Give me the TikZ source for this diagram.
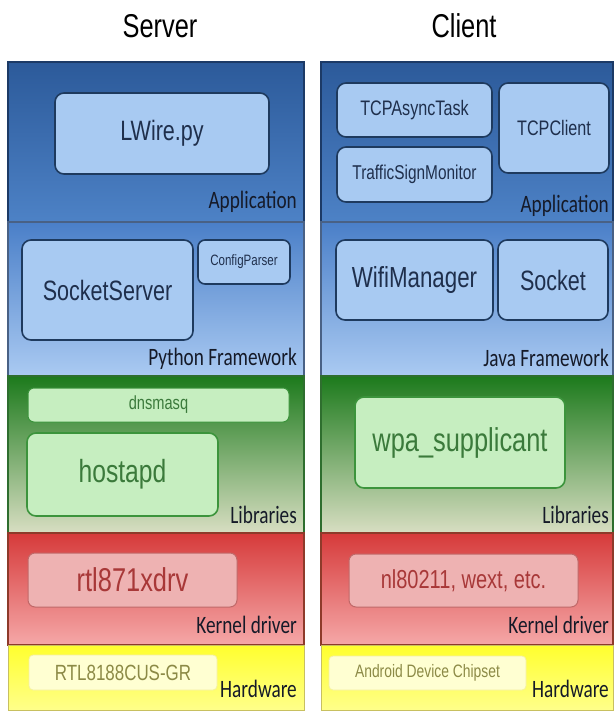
\documentclass[tikz,border=0pt]{standalone}
\usepackage{fontspec}
\newfontfamily\boxfont{Liberation Sans}[FakeStretch=0.77]
\newfontfamily\labfont{Carlito}[FakeStretch=0.77]
\newcommand\fsz[1]{\fontsize{#1}{#1}\selectfont}
\definecolor{appTop}{HTML}{2C5A9A}
\definecolor{appBot}{HTML}{4D82C6}
\definecolor{pyTop}{HTML}{4A7FC8}
\definecolor{pyBot}{HTML}{AACAF2}
\definecolor{libTop}{HTML}{1C7A1C}
\definecolor{libBot}{HTML}{D8DEC2}
\definecolor{kTop}{HTML}{D63A3A}
\definecolor{kBot}{HTML}{F5A8A8}
\definecolor{hwTop}{HTML}{FFFF2E}
\definecolor{hwBot}{HTML}{FFFF8A}
\definecolor{blueLine}{HTML}{1C3A66}
\definecolor{greenLine}{HTML}{2E6E2E}
\definecolor{redLine}{HTML}{8E3A2A}
\definecolor{hwLine}{HTML}{C8C060}
\definecolor{bFill}{HTML}{A8CAF2}
\definecolor{bDraw}{HTML}{1E3A5E}
\definecolor{bText}{HTML}{1F2F4C}
\definecolor{gFill}{HTML}{C6EEC0}
\definecolor{gDraw}{HTML}{3C943C}
\definecolor{gText}{HTML}{3B7A3B}
\definecolor{rFill}{HTML}{EEB2B2}
\definecolor{rDraw}{HTML}{C06868}
\definecolor{rText}{HTML}{A83838}
\definecolor{yFill}{HTML}{FFFFD2}
\definecolor{yDraw}{HTML}{F4F0A0}
\definecolor{yText}{HTML}{8C8A46}
\definecolor{labText}{HTML}{151A28}
\tikzset{
  bluebox/.style={draw=bDraw, fill=bFill, line width=1.6pt, rounded corners=9pt, text=bText, inner sep=0pt, outer sep=0pt},
  greenbox/.style={draw=gDraw, fill=gFill, line width=1.6pt, rounded corners=9pt, text=gText, inner sep=0pt, outer sep=0pt},
  redbox/.style={draw=rDraw, fill=rFill, line width=1pt, rounded corners=7pt, text=rText, inner sep=0pt, outer sep=0pt},
  yelbox/.style={draw=yDraw, fill=yFill, line width=0.8pt, rounded corners=4pt, text=yText, inner sep=0pt, outer sep=0pt},
  layerlab/.style={anchor=base east, text=labText, inner sep=0pt, font=\labfont\fsz{25}},
  header/.style={anchor=base, text=black, inner sep=0pt, font=\boxfont\fsz{33}},
  bandline/.style={line width=1.6pt}
}
\begin{document}
\begin{tikzpicture}[x=1pt, y=-1pt]
\useasboundingbox (0,0) rectangle (614,712);
\fill[white] (0,0) rectangle (614,712);
% bands for both columns
\foreach \xa/\xb in {8/304, 321/613} {
  \shade[top color=appTop, bottom color=appBot] (\xa,62) rectangle (\xb,222);
  \shade[top color=pyTop, bottom color=pyBot] (\xa,222) rectangle (\xb,376);
  \shade[top color=libTop, bottom color=libBot] (\xa,376) rectangle (\xb,533);
  \shade[top color=kTop, bottom color=kBot] (\xa,533) rectangle (\xb,645);
  \shade[top color=hwTop, bottom color=hwBot] (\xa,645) rectangle (\xb,710);
  \draw[bandline, draw=blueLine] (\xa,62) rectangle (\xb,222);
  \draw[bandline, draw=blueLine!80!white] (\xa,222) rectangle (\xb,376);
  \draw[bandline, draw=greenLine] (\xa,376) rectangle (\xb,533);
  \draw[bandline, draw=redLine] (\xa,533) rectangle (\xb,645);
  \draw[line width=1pt, draw=hwLine] (\xa,645) rectangle (\xb,710);
}
% headers
\node[header] (hserver) at (160,37) {Server};
\node[header] (hclient) at (464,37) {Client};
% server
\node[bluebox, minimum width=214pt, minimum height=81pt, font=\boxfont\fsz{28}] (lwire) at (162,133.5) {LWire.py};
\node[layerlab] (sapp) at (297,208) {Application};
\node[bluebox, minimum width=171pt, minimum height=100pt, font=\boxfont\fsz{28}] (sockserv) at (107.5,290) {SocketServer};
\node[bluebox, minimum width=92pt, minimum height=44pt, rounded corners=7pt, font=\boxfont\fsz{15}] (cfg) at (244,262) {ConfigParser};
\node[layerlab] (spy) at (297,365) {Python Framework};
\node[greenbox, minimum width=261pt, minimum height=34pt, rounded corners=6pt, line width=1pt, font=\boxfont\fsz{19}] (dns) at (158.5,405) {dnsmasq};
\node[greenbox, minimum width=191pt, minimum height=83pt, font=\boxfont\fsz{32}] (hostapd) at (122.5,474.5) {hostapd};
\node[layerlab] (slib) at (297,523) {Libraries};
\node[redbox, minimum width=209pt, minimum height=54pt, font=\boxfont\fsz{33}] (rtl) at (132.5,580) {rtl871xdrv};
\node[layerlab] (skern) at (297,633) {Kernel driver};
\node[yelbox, minimum width=188pt, minimum height=35pt, font=\boxfont\fsz{22}] (chip) at (123,672.5) {RTL8188CUS-GR};
\node[layerlab] (shw) at (297,697) {Hardware};
% client
\node[bluebox, minimum width=155pt, minimum height=54pt, font=\boxfont\fsz{21}] (tcpasync) at (414.5,110) {TCPAsyncTask};
\node[bluebox, minimum width=155pt, minimum height=55pt, font=\boxfont\fsz{20}] (traffic) at (414.5,174.5) {TrafficSignMonitor};
\node[bluebox, minimum width=110pt, minimum height=90pt, font=\boxfont\fsz{21}] (tcpclient) at (554,128) {TCPClient};
\node[layerlab] (capp) at (609,212) {Application};
\node[bluebox, minimum width=157pt, minimum height=80pt, font=\boxfont\fsz{29}] (wifi) at (414.5,280) {WifiManager};
\node[bluebox, minimum width=110pt, minimum height=80pt, font=\boxfont\fsz{28}] (sock) at (553,280) {Socket};
\node[layerlab] (cjava) at (609,366) {Java Framework};
\node[greenbox, minimum width=210pt, minimum height=91pt, font=\boxfont\fsz{33}] (wpa) at (460,442.5) {wpa\_supplicant};
\node[layerlab] (clib) at (609,523) {Libraries};
\node[redbox, minimum width=229pt, minimum height=53pt, font=\boxfont\fsz{26}] (nl) at (463.5,580.5) {nl80211, wext, etc.};
\node[layerlab] (ckern) at (609,633) {Kernel driver};
\node[yelbox, minimum width=197pt, minimum height=34pt, font=\boxfont\fsz{18}] (android) at (427.5,673) {Android Device Chipset};
\node[layerlab] (chw) at (609,697) {Hardware};
\end{tikzpicture}
\end{document}
